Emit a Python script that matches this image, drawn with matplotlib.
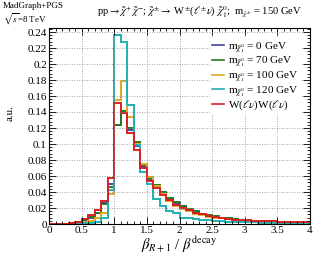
import matplotlib

matplotlib.use("Agg")

import matplotlib.pyplot as plt  # noqa: E402
import numpy as np  # noqa: E402
from matplotlib.ticker import MultipleLocator  # noqa: E402

# bin edges of beta_{R+1} / beta^{decay}
edges = np.round(np.arange(0, 4.05, 0.1), 2)

# normalised histograms, 40 bins each
m0 = [0.0003, 0.0003, 0.0005, 0.001, 0.002, 0.005, 0.008, 0.014, 0.026, 0.050,
      0.124, 0.140, 0.118, 0.097, 0.071, 0.055, 0.046, 0.038, 0.031, 0.025,
      0.021, 0.018, 0.015, 0.012, 0.010, 0.009, 0.0075, 0.0065, 0.0055, 0.005,
      0.0046, 0.0042, 0.0038, 0.0035, 0.0032, 0.003, 0.0028, 0.0026, 0.0024, 0.0022]
m70 = [0.0003, 0.0003, 0.0005, 0.001, 0.002, 0.005, 0.009, 0.014, 0.025, 0.046,
       0.124, 0.141, 0.120, 0.102, 0.074, 0.057, 0.049, 0.040, 0.033, 0.027,
       0.022, 0.019, 0.016, 0.013, 0.011, 0.0095, 0.008, 0.007, 0.006, 0.005,
       0.0047, 0.0043, 0.004, 0.0037, 0.0034, 0.0031, 0.0029, 0.0027, 0.0025, 0.0023]
m100 = [0.0, 0.0, 0.0003, 0.0005, 0.001, 0.002, 0.004, 0.008, 0.014, 0.037,
        0.155, 0.179, 0.134, 0.100, 0.075, 0.059, 0.048, 0.037, 0.029, 0.023,
        0.019, 0.016, 0.013, 0.011, 0.009, 0.008, 0.007, 0.006, 0.005, 0.0045,
        0.004, 0.0037, 0.0034, 0.0031, 0.0028, 0.0026, 0.0024, 0.0022, 0.002, 0.0019]
m120 = [0.0, 0.0, 0.0, 0.0002, 0.0005, 0.0008, 0.0015, 0.003, 0.007, 0.042,
        0.236, 0.227, 0.149, 0.099, 0.065, 0.050, 0.031, 0.022, 0.016, 0.014,
        0.008, 0.007, 0.006, 0.005, 0.0045, 0.004, 0.0035, 0.003, 0.0027, 0.0025,
        0.0022, 0.002, 0.0018, 0.0017, 0.0015, 0.0014, 0.0013, 0.0012, 0.0011, 0.001]
ww = [0.0005, 0.0005, 0.0005, 0.0015, 0.003, 0.0065, 0.011, 0.017, 0.029, 0.058,
      0.151, 0.139, 0.114, 0.093, 0.070, 0.054, 0.045, 0.036, 0.030, 0.024,
      0.020, 0.017, 0.014, 0.012, 0.010, 0.0085, 0.0075, 0.0065, 0.0055, 0.005,
      0.0046, 0.0042, 0.0038, 0.0035, 0.0032, 0.003, 0.0028, 0.0026, 0.0024, 0.0022]

labels = [r"m$_{\tilde{\chi}^{0}_{1}}$ = 0 GeV",
          r"m$_{\tilde{\chi}^{0}_{1}}$ = 70 GeV",
          r"m$_{\tilde{\chi}^{0}_{1}}$ = 100 GeV",
          r"m$_{\tilde{\chi}^{0}_{1}}$ = 120 GeV",
          r"W($\ell\nu$)W($\ell\nu$)"]
colors = ["#4646aa", "#227a22", "#e0a824", "#22b0b0", "#d82222"]

plt.rcParams["font.family"] = ["Liberation Serif", "DejaVu Serif"]
plt.rcParams["mathtext.fontset"] = "stix"

fig = plt.figure(figsize=(3.32, 2.63), dpi=100)
ax = fig.add_axes([49 / 332, 1 - 224 / 263, 261 / 332, 196 / 263])

for vals, col, lab in zip([m0, m70, m100, m120, ww], colors, labels):
    ax.stairs(vals, edges, color=col, lw=1.4, label=lab)

ax.set_xlim(0, 4)
ax.set_ylim(0, 0.245)
ax.xaxis.set_major_locator(MultipleLocator(0.5))
ax.xaxis.set_minor_locator(MultipleLocator(0.1))
ax.yaxis.set_major_locator(MultipleLocator(0.02))
ax.yaxis.set_minor_locator(MultipleLocator(0.004))
ax.set_xticks(np.arange(0, 4.01, 0.5))
ax.set_xticklabels(["0", "0.5", "1", "1.5", "2", "2.5", "3", "3.5", "4"])
ax.set_yticks(np.arange(0, 0.241, 0.02))
ax.set_yticklabels(["0"] + [f"{v:g}" for v in np.round(np.arange(0.02, 0.241, 0.02), 2)])
ax.tick_params(which="both", direction="in", top=True, right=True, labelsize=8,
               width=0.6, pad=1.5)
ax.tick_params(which="major", length=5)
ax.tick_params(which="minor", length=2.5)
ax.grid(True, which="major", color="#888888", ls=(0, (1, 2)), lw=0.6)
for s in ax.spines.values():
    s.set_linewidth(0.8)

ax.set_xlabel(r"$\beta_{R+1}$ / $\beta^{\mathrm{decay}}$", fontsize=10.5, labelpad=0)
fig.text(10 / 332, 1 - 113 / 263, "a.u.", rotation=90, fontsize=8,
         ha="center", va="center")

fig.text(3 / 332, 1 - 6 / 263, "MadGraph+PGS", fontsize=6.5, va="center")
fig.text(3 / 332, 1 - 19 / 263, r"$\sqrt{s}$=8 TeV", fontsize=6.5, va="center")
fig.text(97 / 332, 1 - 12 / 263,
         r"pp$\rightarrow\tilde{\chi}^{+}\,\tilde{\chi}^{-}$; $\tilde{\chi}^{\pm}\rightarrow$"
         r" W$^{\pm}$($\ell^{\pm}\nu$) $\tilde{\chi}^{0}_{1}$;  m$_{\tilde{\chi}^{\pm}}$ = 150 GeV",
         fontsize=7.6, va="center")

leg = ax.legend(loc="upper left", bbox_to_anchor=(210 / 332, 1 - 38 / 263),
                bbox_transform=fig.transFigure, fontsize=8, frameon=True,
                fancybox=False, handlelength=1.1, handletextpad=0.35,
                labelspacing=0.0, borderpad=0.2, borderaxespad=0)
leg.get_frame().set_facecolor("white")
leg.get_frame().set_edgecolor("none")
leg.get_frame().set_alpha(1)
for line in leg.get_lines():
    line.set_linewidth(1.2)

fig.savefig("out.png", dpi=100)
